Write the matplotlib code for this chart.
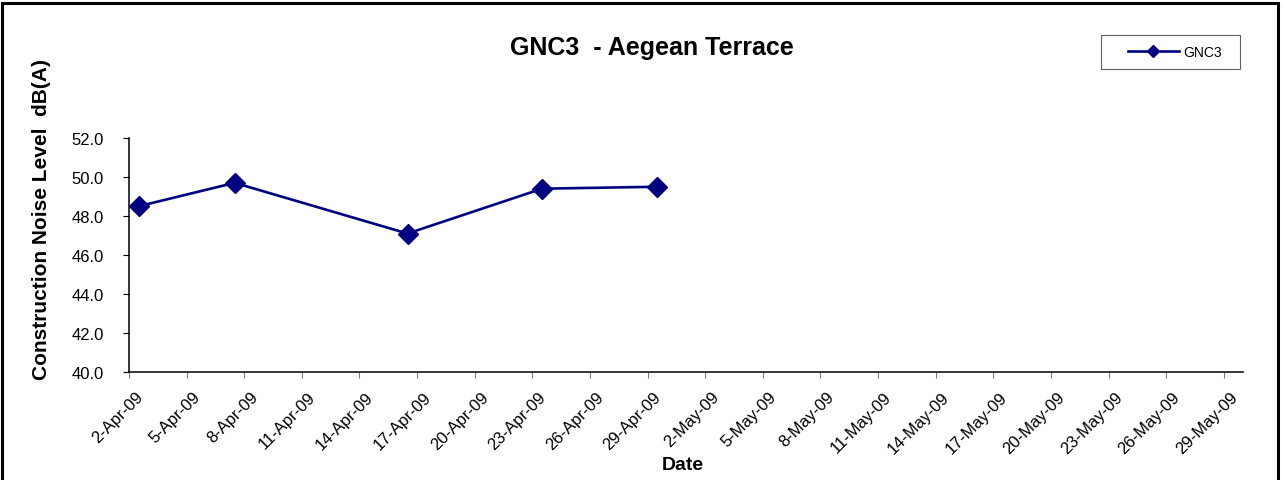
import matplotlib.pyplot as plt
import matplotlib.transforms as mtransforms
import pandas as pd
from matplotlib.patches import Rectangle

plt.rcParams['font.family'] = ['Liberation Sans', 'DejaVu Sans']

# measured dates and levels (Excel plots each point in the middle of its day)
dates = ['2009-04-02', '2009-04-07', '2009-04-16', '2009-04-23', '2009-04-29']
levels = [48.5, 49.7, 47.1, 49.4, 49.5]
tick_dates = pd.date_range('2009-04-02', '2009-05-29', freq='3D')
tick_labels = [str(d.day) + '-' + d.strftime('%b-%y') for d in tick_dates]
y_ticks = [40, 42, 44, 46, 48, 50, 52]

x = pd.to_datetime(dates) + pd.Timedelta(hours=12)

W, H = 1282, 481
fig = plt.figure(figsize=(W/100, H/100), dpi=100)
ax = fig.add_axes([129/W, 1-373/H, (1243-129)/W, (373-139)/H])

ax.plot(x, levels, color='#000080', lw=1.9, marker='D', ms=10,
        label='GNC3')

ax.set_xlim(pd.Timestamp('2009-04-02'), pd.Timestamp('2009-05-30'))
ax.set_ylim(40, 52)
ax.set_yticks(y_ticks)
ax.set_yticklabels(['%.1f' % v for v in y_ticks], fontsize=12)
ax.set_xticks(tick_dates)
ax.set_xticklabels(tick_labels, rotation=45, ha='right',
                   rotation_mode='anchor', fontsize=12)

for s in ['top', 'right']:
    ax.spines[s].set_visible(False)
for s in ['left', 'bottom']:
    ax.spines[s].set_linewidth(1.1)
ax.tick_params(axis='y', length=4, width=0.8, pad=14)
ax.tick_params(axis='x', length=4, width=0.8, color='#808080', pad=6)

# nudge rotated date labels like Excel does
off = mtransforms.ScaledTranslation(6/100, -3/100, fig.dpi_scale_trans)
for lab in ax.get_xticklabels():
    lab.set_transform(lab.get_transform() + off)

fig.text(683/W, 1-466/H, 'Date', fontsize=14, fontweight='bold',
         ha='center', va='center')
fig.text(652/W, 1-48/H, 'GNC3  - Aegean Terrace', fontsize=18,
         fontweight='bold', ha='center', va='center')
fig.text(42/W, 1-219/H, 'Construction Noise Level  dB(A)', fontsize=15,
         fontweight='bold', rotation=90, ha='center', va='center')

# legend content centred in its own box, frame drawn separately
leg = ax.legend(loc='center', bbox_to_anchor=(1175/W, 1-53/H),
                bbox_transform=fig.transFigure, fontsize=10, frameon=False,
                handlelength=3.67, handletextpad=0.36, markerscale=0.6,
                borderaxespad=0, borderpad=0)
fig.patches.append(Rectangle((1101/W, 1-70/H), 139/W, 34/H,
                             transform=fig.transFigure, fill=False,
                             edgecolor='#606060', lw=0.8))

fig.patches.append(Rectangle((2/W, -0.05), 1276/W, 1.05-4/H,
                             transform=fig.transFigure, fill=False,
                             edgecolor='black', lw=2.2))

fig.savefig('out.png', dpi=100)
